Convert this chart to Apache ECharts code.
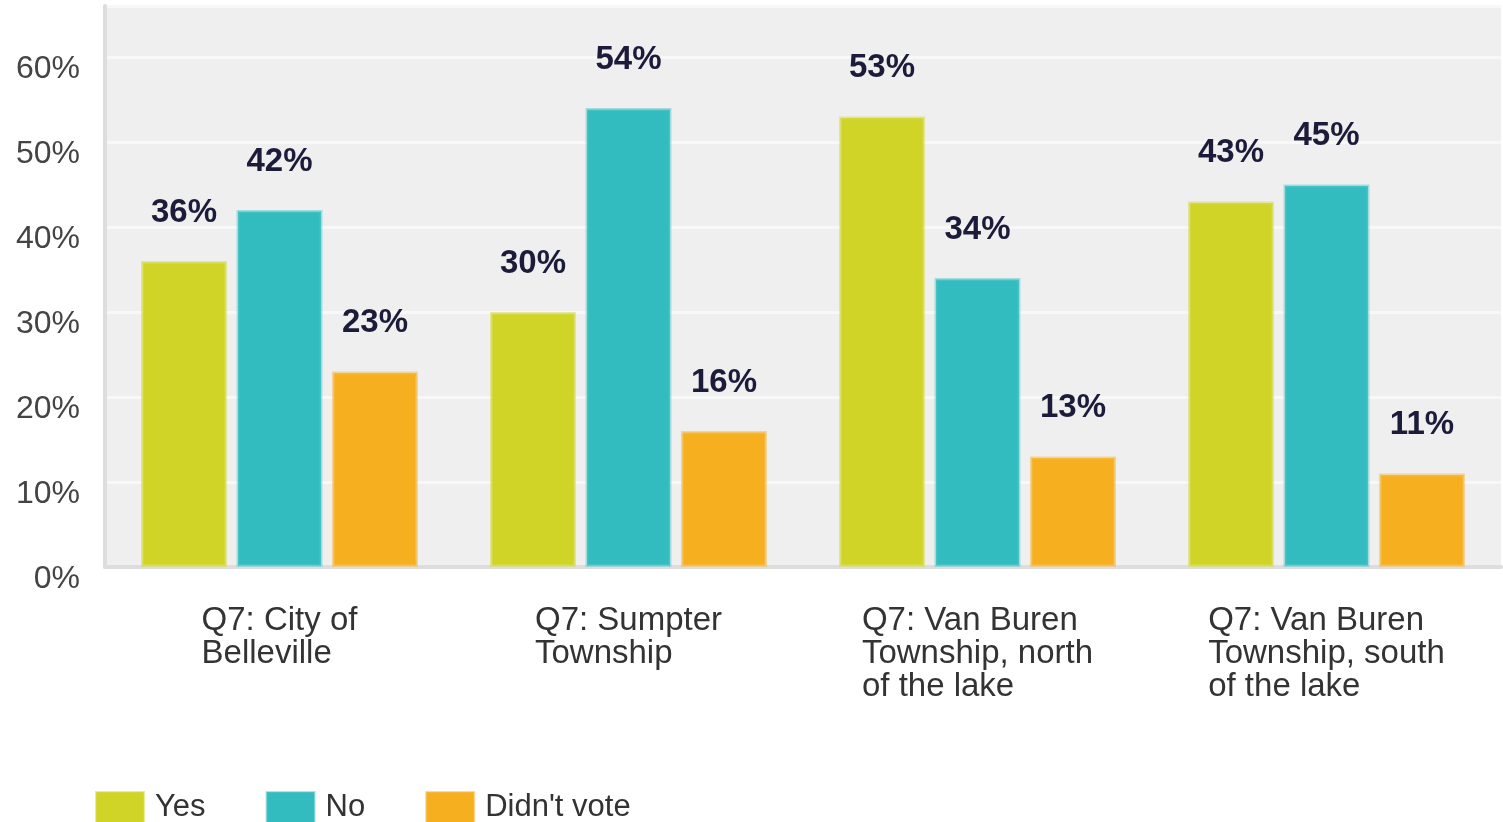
<!DOCTYPE html>
<html>
<head>
<meta charset="utf-8">
<title>Q7 chart</title>
<script src="https://cdn.jsdelivr.net/npm/echarts@6/dist/echarts.min.js"></script>
<style>
  html, body { margin: 0; padding: 0; background: #fff; }
  #chart { width: 1503px; height: 822px; }
</style>
</head>
<body>
<div id="chart"></div>
<script>
// data
const categories = [
    'Q7: City of\nBelleville',
    'Q7: Sumpter\nTownship',
    'Q7: Van Buren\nTownship, north\nof the lake',
    'Q7: Van Buren\nTownship, south\nof the lake'
]
const seriesNames = ['Yes', 'No', "Didn't vote"]
const yesValues = [36, 30, 53, 43]
const noValues = [42, 54, 34, 45]
const didntVoteValues = [23, 16, 13, 11]

const font = '"Liberation Sans", Arial, sans-serif'
const colors = ['#CFD427', '#33BCBF', '#F6AF1F']
const edgeColors = ['rgba(215,220,80,0.55)', 'rgba(90,200,203,0.5)', 'rgba(246,190,80,0.55)']

const makeSeries = (name, values, i) => ({
    name: name,
    type: 'bar',
    data: values,
    barWidth: 86,
    barGap: '11%',
    itemStyle: {
        color: colors[i],
        borderColor: edgeColors[i],
        borderWidth: 3
    },
    label: {
        show: true,
        position: 'top',
        distance: 32,
        formatter: '{c}%',
        fontFamily: font,
        fontSize: 33,
        fontWeight: 'bold',
        color: '#1c1c3a'
    }
})

const chart = echarts.init(document.getElementById('chart'), null, { renderer: 'canvas' })
chart.setOption({
    animation: false,
    grid: {
        left: 105,
        right: 2,
        top: 6,
        bottom: 255,
        show: true,
        backgroundColor: '#efefef',
        borderWidth: 0
    },
    legend: {
        left: 95,
        top: 791,
        padding: 0,
        itemWidth: 48,
        itemHeight: 31,
        itemGap: 60,
        icon: 'rect',
        data: seriesNames,
        textStyle: {
            fontFamily: font,
            fontSize: 31,
            color: '#333',
            padding: [0, 0, 0, 6]
        }
    },
    xAxis: {
        type: 'category',
        data: categories,
        axisLine: { lineStyle: { color: '#dddddd', width: 4 } },
        axisTick: { show: false },
        axisLabel: {
            interval: 0,
            margin: 37,
            align: 'center',
            verticalAlign: 'top',
            formatter: v => v.split('\n').map(l => '{a|' + l + '}').join('\n'),
            rich: {
                a: {
                    align: 'left',
                    fontFamily: font,
                    fontSize: 33,
                    lineHeight: 33,
                    color: '#333'
                }
            }
        }
    },
    yAxis: {
        type: 'value',
        min: 0,
        max: 66,
        interval: 10,
        axisLine: { show: true, lineStyle: { color: '#dddddd', width: 4 } },
        axisTick: { show: false },
        splitLine: { lineStyle: { color: '#f8f8f8', width: 3 } },
        axisLabel: {
            showMaxLabel: false,
            margin: 25,
            verticalAlign: 'top',
            lineHeight: 24,
            formatter: '{value}%',
            fontFamily: font,
            fontSize: 32,
            color: '#444'
        }
    },
    series: [
        makeSeries(seriesNames[0], yesValues, 0),
        makeSeries(seriesNames[1], noValues, 1),
        makeSeries(seriesNames[2], didntVoteValues, 2)
    ]
})
</script>
</body>
</html>
